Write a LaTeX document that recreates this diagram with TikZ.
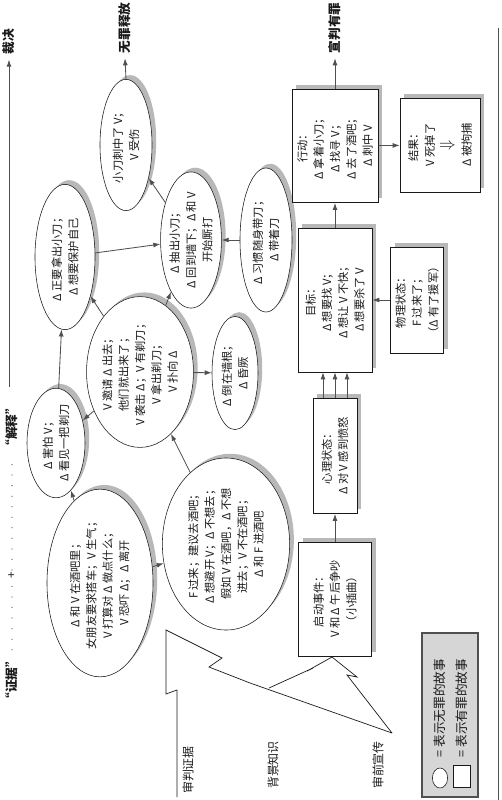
\documentclass[tikz,border=0pt]{standalone}
\usepackage{fontspec}
\setmainfont{Noto Sans CJK SC}
\usetikzlibrary{shapes.geometric,arrows.meta,shadows}
\definecolor{ink}{HTML}{1A1A1A}
\definecolor{wire}{HTML}{505050}
\definecolor{shade}{HTML}{B8B8B8}
\definecolor{panel}{HTML}{D6D6D6}
\tikzset{
  story node/.style={
    ellipse,
    draw=ink,
    fill=white,
    text=ink,
    rotate=90,
    inner sep=0pt,
    align=center,
    font=\fontsize{8}{11.6}\selectfont,
    general shadow={fill=shade, shadow xshift=3pt, shadow yshift=3pt},
  },
  episode box/.style={
    story node,
    rectangle,
  },
  flow arrow/.style={
    draw=wire,
    semithick,
    -{Latex[length=5pt,width=3.5pt]},
  },
  outcome label/.style={
    rotate=90,
    text=ink,
    font=\fontsize{9}{10}\selectfont\bfseries,
  },
  source label/.style={
    rotate=90,
    text=ink,
    font=\fontsize{8.5}{10}\selectfont,
  },
  bolt line/.style={
    draw=ink,
    line width=0.5pt,
  },
}

\begin{document}
\begin{tikzpicture}[x=0.025cm, y=-0.025cm]
  \useasboundingbox (0,0) rectangle (501,800);

  % --- Verdict axis ---
  \node[outcome label] (verdict) at (9,42) {裁决};
  \node[outcome label] (interp) at (12,427) {“解释”};
  \node[outcome label] (evid) at (12,680) {“证据”};
  \node[source label, inner sep=1pt] (plus) at (12,575) {+};
  \coordinate (axis start) at (9,387);
  \draw[flow arrow] (axis start) -- (verdict.west);
  \draw[wire, line width=0.9pt, dash pattern=on 0pt off 7.5pt, line cap=round]
    (evid.east) -- (plus.west) (plus.east) -- (interp.west);

  % --- Innocent story (ellipses) ---
  \node[story node, minimum width=3.28cm, minimum height=1.30cm] (stab) at (126,145)
    {小刀刺中了 V；\\V 受伤};
  \node[story node, minimum width=3.63cm, minimum height=1.50cm] (grab) at (65,257)
    {Δ 正要拿出小刀；\\Δ 想要保护自己};
  \node[story node, minimum width=3.15cm, minimum height=1.30cm] (fight) at (191,240)
    {Δ 抽出小刀；\\Δ 回到墙下；Δ 和 V\\开始厮打};
  \node[story node, minimum width=3.60cm, minimum height=1.30cm] (habit) at (266,240)
    {Δ 习惯随身带刀；\\Δ 带着刀};
  \node[story node, minimum width=3.63cm, minimum height=2.50cm] (invite) at (140,372)
    {V 邀请 Δ 出去；\\他们就出来了；\\V 袭击 Δ；V 有剃刀；\\V 拿出剃刀；\\V 扑向 Δ};
  \node[story node, minimum width=2.50cm, minimum height=1.45cm] (afraid) at (56,443)
    {Δ 害怕 V；\\Δ 看见一把剃刀};
  \node[story node, minimum width=2.83cm, minimum height=1.15cm] (faint) at (235,373)
    {Δ 倒在墙根；\\Δ 昏厥};
  \node[story node, minimum width=4.63cm, minimum height=2.65cm] (bar) at (100,583)
    {Δ 和 V 在酒吧里；\\女朋友要求搭车；V 生气；\\V 打算对 Δ 做点什么；\\V 恐吓 Δ；Δ 离开};
  \node[story node, minimum width=4.30cm, minimum height=3.18cm] (friend) at (226,544)
    {F 过来；建议去酒吧；\\Δ 想避开 V；Δ 不想去；\\假如 V 在酒吧，Δ 不想\\进去；V 不在酒吧；\\Δ 和 F 进酒吧};

  % --- Guilty story (boxes) ---
  \node[episode box, minimum width=2.83cm, minimum height=2.15cm] (action) at (335,146)
    {行动：\\Δ 拿着小刀；\\Δ 找寻 V；\\Δ 去了酒吧；\\Δ 刺中 V};
  \node[episode box, minimum width=2.35cm, minimum height=2.00cm] (result) at (440,145)
    {结果：\\V 死掉了\\[1pt]{\large$\Downarrow$}\\[2pt]Δ 被拘捕};
  \node[episode box, minimum width=3.60cm, minimum height=1.85cm] (goal) at (335,300)
    {目标：\\Δ 想要找 V；\\Δ 想让 V 不快；\\Δ 想要杀了 V};
  \node[episode box, minimum width=2.65cm, minimum height=1.33cm] (physical) at (417,300)
    {物理状态：\\F 过来了；\\（Δ 有了援军）};
  \node[episode box, minimum width=2.88cm, minimum height=1.10cm] (mental) at (335,456)
    {心理状态：\\Δ 对 V 感到愤怒};
  \node[episode box, minimum width=2.85cm, minimum height=1.83cm] (start) at (335,599)
    {启动事件：\\V 和 Δ 午后争吵\\（小插曲）};

  % --- Verdicts ---
  \node[outcome label] (acquit) at (125,28) {无罪释放};
  \node[outcome label] (convict) at (335,28) {宣判有罪};
  \draw[flow arrow] (stab.east) -- (acquit.west);
  \draw[flow arrow] (action.east) -- (convict.west);

  % --- Connections: innocent story ---
  \draw[flow arrow] (fight) -- (stab);
  \draw[flow arrow] (grab) -- (fight);
  \draw[flow arrow] (habit) -- (fight);
  \draw[flow arrow] (invite) -- (grab);
  \draw[flow arrow] (invite) -- (fight);
  \draw[flow arrow] (invite) -- (faint);
  \draw[flow arrow] (invite) -- (afraid);
  \draw[flow arrow] (afraid) -- (grab);
  \draw[flow arrow] (friend) -- (invite);
  \draw[flow arrow] (bar) -- (afraid);
  \draw[flow arrow] (bar) -- (friend);

  % --- Connections: guilty story ---
  \draw[flow arrow] (start) -- (mental);
  \foreach \dx in {-0.3,0,0.3} {
    \draw[flow arrow] ([xshift=\dx cm]mental.east) -- ([xshift=\dx cm]goal.west);
  }
  \draw[flow arrow] (physical) -- (goal);
  \draw[flow arrow] (goal) -- (action);
  \draw[flow arrow] (action) -- (result);

  % --- Sources ---
  \node[source label] (trial) at (188,770) {审判证据};
  \node[source label] (world) at (273,765) {背景知识};
  \node[source label] (press) at (378,765) {审前宣传};
  \draw[bolt line] (177,797) -- (177,690) -- (166,694) -- (166,630) -- (222,658)
    -- (209,667) -- (250,683) -- (392,733);
  \draw[bolt line] (269,688) -- (313,668) -- (307,671) -- (332,657) -- (357,677)
    -- (347,675) -- (392,733);

  % --- Legend ---
  \node[rotate=90, draw=wire, fill=panel, line width=0.8pt, minimum width=4.1cm,
    minimum height=1.4cm] (legend) at (450,715) {};
  \node[rotate=90, ellipse, draw=ink, fill=white, minimum width=0.5cm,
    minimum height=0.38cm, inner sep=0pt] (key oval) at (440,778) {};
  \node[rotate=90, draw=ink, fill=white, minimum width=0.55cm,
    minimum height=0.42cm, inner sep=0pt] (key box) at (462,776) {};
  \node[source label, font=\fontsize{9}{10}\selectfont] (key oval text) at (440,708)
    {= 表示无罪的故事};
  \node[source label, font=\fontsize{9}{10}\selectfont] (key box text) at (462,708)
    {= 表示有罪的故事};

  \draw[wire] (498,28) -- (498,800);
\end{tikzpicture}
\end{document}
